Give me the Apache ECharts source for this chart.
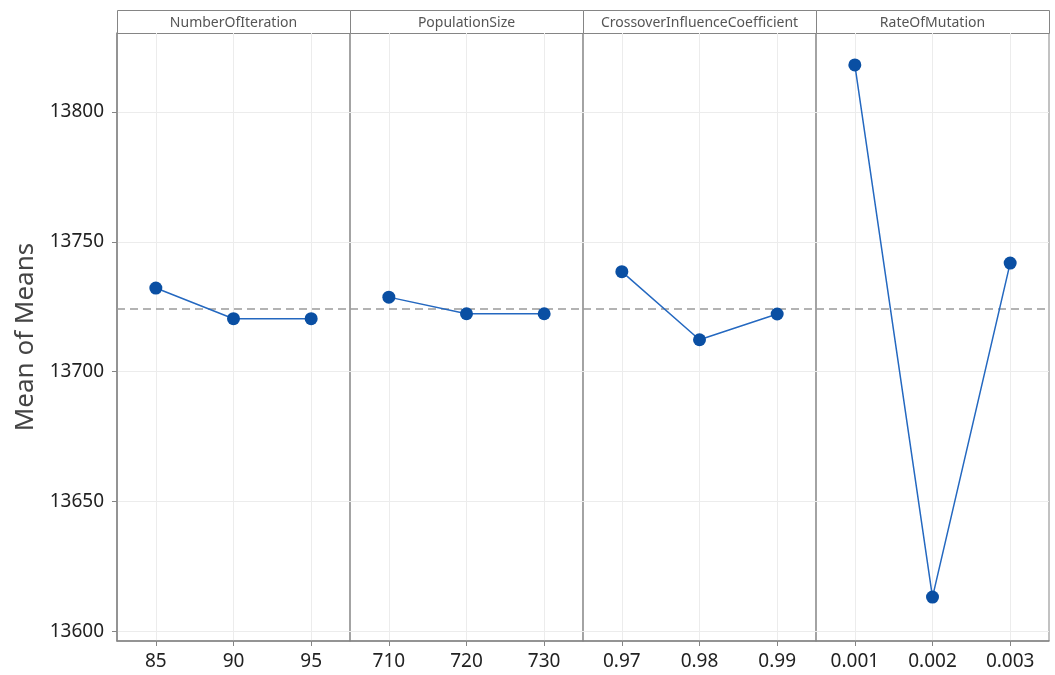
<!DOCTYPE html>
<html>
<head>
<meta charset="utf-8">
<script src="https://cdn.jsdelivr.net/npm/echarts@6/dist/echarts.min.js"></script>
<style>
  html, body { margin: 0; padding: 0; background: #ffffff; }
  #chart { width: 1055px; height: 675px; }
</style>
</head>
<body>
<div id="chart"></div>
<script>
// Main effects plot for means: one panel per factor, three levels each.
const factors = ['NumberOfIteration', 'PopulationSize', 'CrossoverInfluenceCoefficient', 'RateOfMutation'];

const levelsNumberOfIteration = ['85', '90', '95'];
const levelsPopulationSize = ['710', '720', '730'];
const levelsCrossoverInfluenceCoefficient = ['0.97', '0.98', '0.99'];
const levelsRateOfMutation = ['0.001', '0.002', '0.003'];

const meansNumberOfIteration = [13732.2, 13720.4, 13720.4];
const meansPopulationSize = [13728.7, 13722.3, 13722.3];
const meansCrossoverInfluenceCoefficient = [13738.5, 13712.3, 13722.2];
const meansRateOfMutation = [13818.1, 13613.2, 13741.8];

const grandMean = 13724.4;
const yTicks = [13600, 13650, 13700, 13750, 13800];
const yMin = 13596.3;
const yMax = 13830.4;

const levels = [levelsNumberOfIteration, levelsPopulationSize, levelsCrossoverInfluenceCoefficient, levelsRateOfMutation];
const means = [meansNumberOfIteration, meansPopulationSize, meansCrossoverInfluenceCoefficient, meansRateOfMutation];

// Layout of the panel strip
const PLOT_LEFT = 117;
const PANEL_W = 233;
const PLOT_TOP = 33;
const PLOT_BOTTOM = 34;
const HEADER_TOP = 10;
const FONT = '"Noto Sans", "Open Sans", sans-serif';
const FRAME = '#858585';
const GRID = '#ececec';

const chart = echarts.init(document.getElementById('chart'), null, { renderer: 'canvas' });

const grids = [], xAxes = [], yAxes = [], series = [], graphics = [];

factors.forEach((name, i) => {
  const left = PLOT_LEFT + i * PANEL_W;
  grids.push({
    left: left, width: PANEL_W, top: PLOT_TOP, bottom: PLOT_BOTTOM,
    show: true, borderColor: FRAME, borderWidth: 1, backgroundColor: 'transparent'
  });
  xAxes.push({
    type: 'category', gridIndex: i, data: levels[i], boundaryGap: true,
    axisLine: { show: true, lineStyle: { color: FRAME, width: 1.5 } },
    axisTick: { show: true, alignWithLabel: true, length: 5, lineStyle: { color: FRAME } },
    axisLabel: { fontSize: 19, color: '#222', margin: 11, fontFamily: FONT },
    splitLine: { show: true, alignWithLabel: true, lineStyle: { color: GRID, width: 1 } }
  });
  yAxes.push({
    type: 'value', gridIndex: i, min: yMin, max: yMax,
    name: i === 0 ? 'Mean of Means' : '',
    nameLocation: 'middle', nameRotate: 90, nameGap: 78,
    nameTextStyle: { fontSize: 26, color: '#444', fontFamily: FONT },
    axisLine: { show: i === 0, lineStyle: { color: FRAME, width: 1.5 } },
    axisTick: { show: i === 0, length: 5, customValues: yTicks, lineStyle: { color: FRAME } },
    axisLabel: {
      show: i === 0, customValues: yTicks, fontSize: 19, color: '#222', margin: 13, fontFamily: FONT,
      formatter: v => String(v)
    },
    splitLine: { show: true, lineStyle: { color: GRID, width: 1 } }
  });
  series.push({
    type: 'line', xAxisIndex: i, yAxisIndex: i, data: means[i],
    symbol: 'circle', symbolSize: 13,
    lineStyle: { color: '#2468c0', width: 1.5 },
    itemStyle: { color: '#0a4fa3' },
    z: 5,
    markLine: {
      silent: true, symbol: 'none',
      label: { show: false },
      lineStyle: { color: '#9a9a9a', type: [8, 5], width: 1.5 },
      data: [{ yAxis: grandMean }]
    }
  });
  // Factor name strip above each panel
  graphics.push({
    type: 'rect',
    shape: { x: left + 0.5, y: HEADER_TOP + 0.5, width: PANEL_W, height: PLOT_TOP - HEADER_TOP },
    style: { fill: '#ffffff', stroke: FRAME, lineWidth: 1 }
  });
  graphics.push({
    type: 'text',
    x: left + PANEL_W / 2, y: (HEADER_TOP + PLOT_TOP) / 2 + 2,
    style: { text: name, align: 'center', verticalAlign: 'middle', font: '14px ' + FONT, fill: '#555' }
  });
});

chart.setOption({
  animation: false,
  backgroundColor: '#ffffff',
  grid: grids,
  xAxis: xAxes,
  yAxis: yAxes,
  series: series,
  graphic: graphics
});
</script>
</body>
</html>
